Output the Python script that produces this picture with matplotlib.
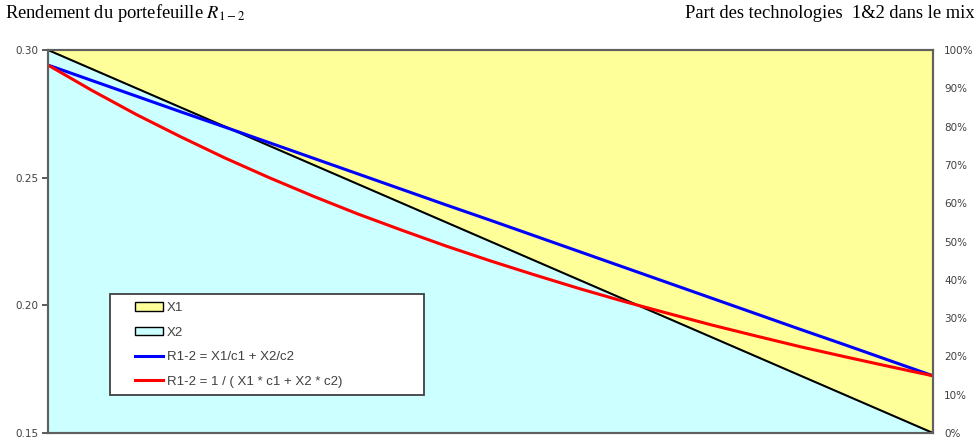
import matplotlib.pyplot as plt
import numpy as np
from matplotlib.ticker import PercentFormatter
from matplotlib.patches import Patch, Rectangle
from matplotlib.lines import Line2D

plt.rcParams['mathtext.fontset'] = 'stix'

# data: share of technology 1 in the mix (x), X2 share on right axis
x1_share = [0.00, 0.05, 0.10, 0.15, 0.20, 0.25, 0.30, 0.35, 0.40, 0.45, 0.50,
            0.55, 0.60, 0.65, 0.70, 0.75, 0.80, 0.85, 0.90, 0.95, 1.00]
x2_share = [1.00, 0.95, 0.90, 0.85, 0.80, 0.75, 0.70, 0.65, 0.60, 0.55, 0.50,
            0.45, 0.40, 0.35, 0.30, 0.25, 0.20, 0.15, 0.10, 0.05, 0.00]
r_linear = [0.2941, 0.2880, 0.2819, 0.2758, 0.2698, 0.2637, 0.2576, 0.2515, 0.2454, 0.2393, 0.2333,
            0.2272, 0.2211, 0.2150, 0.2089, 0.2028, 0.1967, 0.1906, 0.1846, 0.1785, 0.1724]
r_harmonic = [0.2941, 0.2841, 0.2747, 0.2660, 0.2577, 0.2500, 0.2427, 0.2358, 0.2294, 0.2232, 0.2174,
              0.2119, 0.2066, 0.2016, 0.1969, 0.1923, 0.1880, 0.1838, 0.1799, 0.1761, 0.1724]
left_ticks = [0.15, 0.20, 0.25, 0.30]
right_ticks = [0.0, 0.1, 0.2, 0.3, 0.4, 0.5, 0.6, 0.7, 0.8, 0.9, 1.0]

YELLOW = '#FFFF99'
CYAN = '#CCFFFF'
GREY = '#404040'

fig = plt.figure(figsize=(9.79, 4.43), dpi=100, facecolor='w')
W, H = 979., 443.
x0, x1, ytop, ybot = 48, 933, 50, 433
ax2 = fig.add_axes([x0 / W, 1 - ybot / H, (x1 - x0) / W, (ybot - ytop) / H])
ax = ax2.twinx()
ax2.set_zorder(0)
ax.set_zorder(1)
ax.patch.set_visible(False)

# stacked shares X2 (bottom) and X1 (top), right scale
ax2.fill_between(x1_share, 0, x2_share, color=CYAN, lw=0)
ax2.fill_between(x1_share, x2_share, 1, color=YELLOW, lw=0)
ax2.plot(x1_share, x2_share, color='black', lw=1.5)
ax2.set_xlim(0, 1)
ax2.set_ylim(0, 1)

ax.plot(x1_share, r_linear, color='#0000FF', lw=2.2)
ax.plot(x1_share, r_harmonic, color='#FF0000', lw=2.2)
ax.set_ylim(0.15, 0.30)
ax.set_xlim(0, 1)

# left axis = returns, right axis = shares
ax.yaxis.tick_left()
ax.set_yticks(left_ticks)
ax.set_yticklabels(['%.2f' % t for t in left_ticks])
ax.tick_params(axis='y', labelsize=7.5, colors=GREY, length=4, width=1.2, pad=3)
ax2.yaxis.tick_right()
ax2.set_yticks(right_ticks)
ax2.yaxis.set_major_formatter(PercentFormatter(1.0, decimals=0))
ax2.tick_params(axis='y', labelsize=7.5, colors=GREY, length=0, pad=8)
ax.set_xticks([])
ax2.set_xticks([])
for a in (ax, ax2):
    for s in a.spines.values():
        s.set_color('#606060')
        s.set_linewidth(1.5)

# legend box
pw, ph = float(x1 - x0), float(ybot - ytop)
ax.add_patch(Rectangle(((110 - x0) / pw, (ybot - 395) / ph), (424 - 110) / pw, (395 - 294) / ph,
                       transform=ax.transAxes, facecolor='white', edgecolor='#404040',
                       lw=1.3, zorder=5))
handles = [Patch(facecolor=YELLOW, edgecolor='black', lw=1.0),
           Patch(facecolor=CYAN, edgecolor='black', lw=1.0),
           Line2D([], [], color='#0000FF', lw=2.2),
           Line2D([], [], color='#FF0000', lw=2.2)]
labels = ['X1', 'X2', 'R1-2 = X1/c1 + X2/c2', 'R1-2 = 1 / ( X1 * c1 + X2 * c2)']
leg = ax.legend(handles, labels, loc='upper left',
                bbox_to_anchor=((135 - x0) / pw, (ybot - 302) / ph),
                prop={'family': 'Liberation Sans', 'size': 9.5},
                labelspacing=0.95, handlelength=2.1, handleheight=0.6,
                handletextpad=0.3, borderpad=0, borderaxespad=0, frameon=False)
leg.set_zorder(6)
for t in leg.get_texts():
    t.set_color(GREY)

fig.text(5 / W, 1 - 18 / H, r'Rendement du portefeuille $R_{1-2}$',
         family='Liberation Serif', size=13.3, va='baseline', ha='left')
fig.text(975 / W, 1 - 18 / H, 'Part des technologies  1&2 dans le mix',
         family='Liberation Serif', size=13.3, va='baseline', ha='right')

fig.savefig('out.png', dpi=100)
